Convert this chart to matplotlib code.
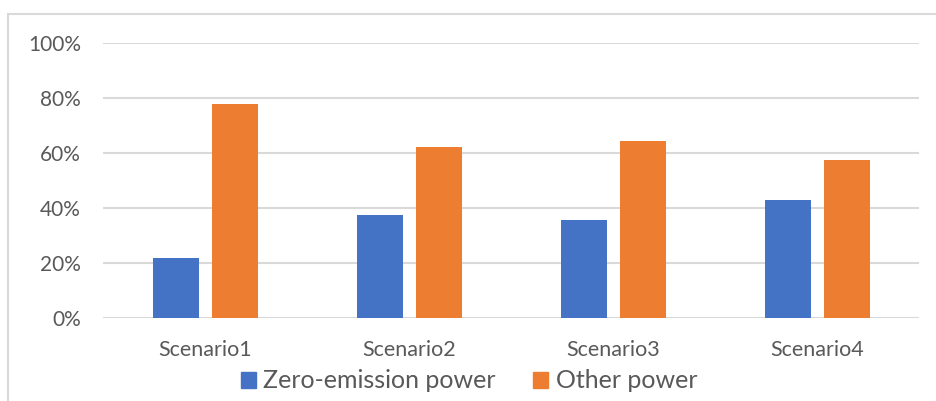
import matplotlib
matplotlib.use("Agg")
import matplotlib.pyplot as plt
from matplotlib.patches import Rectangle, Patch
import numpy as np

scenarios = ["Scenario1", "Scenario2", "Scenario3", "Scenario4"]
zero_emission = [0.22, 0.375, 0.356, 0.428]
other_power = [0.78, 0.623, 0.645, 0.573]
series_names = ["Zero-emission power", "Other power"]
yticks = [0, 0.2, 0.4, 0.6, 0.8, 1.0]
ytick_labels = ["0%", "20%", "40%", "60%", "80%", "100%"]

blue = "#4472C4"
orange = "#ED7D31"
grid_c = "#D9D9D9"
text_c = "#595959"

plt.rcParams["font.family"] = ["Lato", "DejaVu Sans"]

fig = plt.figure(figsize=(9.37, 4.01), dpi=100)
ax = fig.add_axes([103 / 937, 1 - 318 / 401, (919.5 - 103) / 937, 275 / 401])

x = np.arange(len(scenarios))
w = 0.225
off = w / 2 + 0.032
ax.bar(x - off, zero_emission, w, color=blue, zorder=3)
ax.bar(x + off, other_power, w, color=orange, zorder=3)

ax.set_xlim(-0.5, len(scenarios) - 0.5)
ax.set_ylim(0, 1)
ax.set_yticks(yticks)
ax.set_yticklabels(ytick_labels)
ax.set_xticks(x)
ax.set_xticklabels(scenarios)
ax.yaxis.grid(True, color=grid_c, linewidth=1.5, zorder=0)
ax.set_axisbelow(True)
for s in ax.spines.values():
    s.set_visible(False)
ax.tick_params(axis="y", length=0, colors=text_c, labelsize=15, pad=16)
ax.tick_params(axis="x", length=0, colors=text_c, labelsize=15.5, pad=16)

handles = [Patch(color=blue), Patch(color=orange)]
fig.legend(handles, series_names, loc="center", bbox_to_anchor=(0.5005, 0.05),
           ncol=2, frameon=False, fontsize=18, labelcolor=text_c,
           handlelength=0.6, handleheight=0.6, handletextpad=0.3,
           columnspacing=1.5, borderaxespad=0)

# outer chart border (cropped on right and bottom)
fig.patches.append(Rectangle((8 / 937, -0.2), 1.5, (401 - 14) / 401 + 0.2,
                             transform=fig.transFigure, fill=False,
                             edgecolor=grid_c, linewidth=1.5))

fig.savefig("out.png", dpi=100)
